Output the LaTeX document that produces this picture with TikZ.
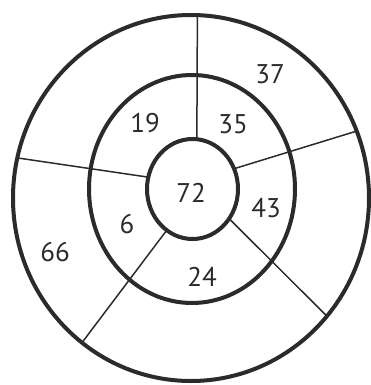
\documentclass[tikz,border=0pt]{standalone}
\usepackage{fontspec}
\setmainfont{PT Sans}
\usepackage{tikz}
\usetikzlibrary{shapes.geometric}
\definecolor{ink}{HTML}{2B2B2B}
\tikzset{
  ring/.style={ellipse,draw=ink,line width=4pt,inner sep=0pt,outer sep=0pt},
  spoke/.style={draw=ink,line width=1.5pt},
  num/.style={text=ink,font=\fontsize{27}{30}\selectfont,inner sep=0pt}
}

\begin{document}
\begin{tikzpicture}[x=1pt,y=-1pt]
\useasboundingbox (0,0) rectangle (370,385);
% rings
\node[ring,minimum width=356pt,minimum height=366pt] (outer) at (191,198) {};
\node[ring,minimum width=206pt,minimum height=228pt] (middle) at (192,189) {};
\node[ring,minimum width=91pt,minimum height=100pt] (inner) at (192.5,189) {};
% spokes
\draw[spoke] (inner.85) -- (outer.88);
\draw[spoke] (inner.26) -- (outer.22);
\draw[spoke] (inner.-39) -- (outer.-41);
\draw[spoke] (inner.-122) -- (outer.-127);
\draw[spoke] (inner.165) -- (outer.167);
% values
\node[num] (v72) at (191,193) {72};
\node[num] (v19) at (145,123) {19};
\node[num] (v35) at (233,124) {35};
\node[num] (v43) at (266,208) {43};
\node[num] (v6) at (127,224) {6};
\node[num] (v24) at (202,277) {24};
\node[num] (v37) at (270,74) {37};
\node[num] (v66) at (55,252) {66};
\end{tikzpicture}
\end{document}
